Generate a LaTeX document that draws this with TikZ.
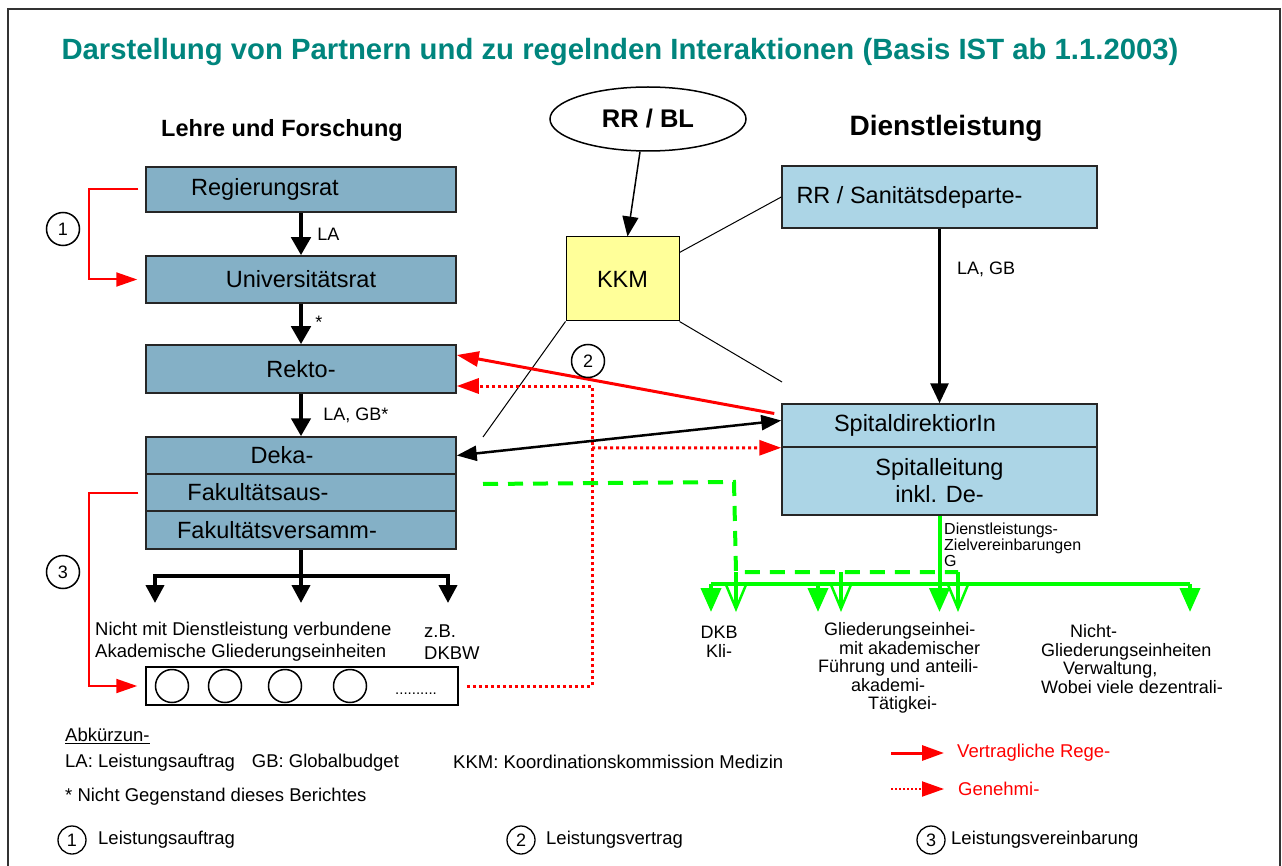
\documentclass[tikz,border=0pt]{standalone}
\usepackage{fontspec}
\setmainfont{Liberation Sans}
\usetikzlibrary{arrows.meta,shapes.geometric}
\definecolor{titleteal}{RGB}{0,133,125}
\definecolor{uniblue}{RGB}{132,176,198}
\definecolor{spitalblue}{RGB}{172,213,230}
\definecolor{kkmyellow}{RGB}{255,255,153}
\definecolor{lnred}{RGB}{255,0,0}
\definecolor{lngreen}{RGB}{0,255,0}
\newcommand\fsz[2]{\fontsize{#1}{#2}\selectfont}

\begin{document}
\begin{tikzpicture}[x=1pt,y=-1pt,
  unibox/.style={draw=black!85, line width=1.5pt, fill=uniblue, minimum width=310pt, inner sep=0pt, font=\fsz{23.5}{27}},
  spitalbox/.style={draw=black!85, line width=1.5pt, fill=spitalblue, minimum width=315pt, inner sep=0pt, font=\fsz{23.5}{27}},
  numc/.style={circle, draw, line width=1.5pt, minimum size=33pt, inner sep=0pt, font=\fsz{18}{20}},
  numcs/.style={circle, draw, line width=1.3pt, minimum size=28pt, inner sep=0pt, font=\fsz{18}{20}},
  lbl/.style={font=\fsz{18}{18.5}, inner sep=0pt},
  leg/.style={font=\fsz{18.5}{20}, inner sep=0pt},
  thinln/.style={line width=1pt},
  blkthick/.style={line width=4.5pt, -{Triangle[length=18pt,width=19pt]}},
  blkmed/.style={line width=3pt, -{Triangle[length=20pt,width=18pt]}},
  blkfork/.style={line width=4pt, -{Triangle[length=18pt,width=18pt]}},
  blkdbl/.style={line width=2.5pt, {Triangle[length=20pt,width=15pt]}-{Triangle[length=20pt,width=15pt]}},
  redthin/.style={draw=lnred, line width=2pt, -{Triangle[length=21pt,width=14pt]}},
  redthick/.style={draw=lnred, line width=3pt, -{Triangle[length=22pt,width=15pt]}},
  reddot/.style={draw=lnred, line width=3pt, dash pattern=on 3pt off 3pt, -{Triangle[length=22pt,width=15pt]}},
  gsolid/.style={draw=lngreen, line width=4pt},
  gtip/.style={gsolid, -{Triangle[length=24pt,width=20pt]}},
  gdash/.style={draw=lngreen, line width=4pt, dash pattern=on 15pt off 10pt},
  gopen/.style={gsolid, -{Straight Barb[length=24pt,width=20pt,line width=2.5pt]}}
]
\useasboundingbox (0,0) rectangle (1282,866);
\draw[line width=2pt, draw=black!80] (8,9) rectangle (1280,880);

% headings
\node[font=\bfseries\fsz{29.3}{34}, text=titleteal] (title) at (620,52)
  {Darstellung von Partnern und zu regelnden Interaktionen (Basis IST ab 1.1.2003)};
\node[font=\bfseries\fsz{23.5}{28}] (lf) at (282,130) {Lehre und Forschung};
\node[font=\bfseries\fsz{28}{32}] (dl) at (946,128) {Dienstleistung};

% university column
\node[unibox, minimum height=45pt] (reg) at (301,189.5) {Regierungsrat\hspace*{72pt}};
\node[unibox, minimum height=47pt] (uni) at (301,279.5) {Universitätsrat};
\node[unibox, minimum height=48pt] (rek) at (301,369) {Rekto-};
\node[unibox, minimum height=37pt] (dek) at (301,455.5) {Deka-\hspace*{38pt}};
\node[unibox, minimum height=37pt] (fka) at (301,492.5) {Fakultätsaus-\hspace*{86pt}};
\node[unibox, minimum height=38pt] (fkv) at (301,530) {Fakultätsversamm-\hspace*{48pt}};

\draw[blkthick] (reg) -- node[lbl, right=14pt] {LA} (uni);
\draw[blkthick] (uni) -- node[lbl, right=12pt, yshift=2pt] {*} (rek);
\draw[blkthick] (rek) -- node[lbl, right=20pt] {LA, GB*} (dek);

% academic units below the faculty
\coordinate (fk) at (301,576);
\coordinate (t1) at (155,603);
\coordinate (t2) at (301,603);
\coordinate (t3) at (448,603);
\draw[line width=4pt] (fkv.south) -- (fk);
\draw[blkfork] (fk) -| (t1);
\draw[blkfork] (fk) -| (t3);
\draw[blkfork] (fk) -- (t2);
\node[lbl, anchor=west, align=left, font=\fsz{18.5}{22}] (ngl) at (95,642)
  {Nicht mit Dienstleistung verbundene\\Akademische Gliederungseinheiten};
\node[lbl, anchor=west, align=left, font=\fsz{18.5}{22}] (dkbw) at (424,642) {z.B.\\DKBW};

\node[draw, line width=1.5pt, minimum width=312pt, minimum height=38pt, inner sep=0pt] (cb) at (302,686) {};
\node[circle, draw, line width=1.5pt, minimum size=33pt, inner sep=0pt] (c1) at (172,686) {};
\node[circle, draw, line width=1.5pt, minimum size=33pt, inner sep=0pt] (c2) at (225,686) {};
\node[circle, draw, line width=1.5pt, minimum size=33pt, inner sep=0pt] (c3) at (285,686) {};
\node[circle, draw, line width=1.5pt, minimum size=33pt, inner sep=0pt] (c4) at (350,686) {};
\node[font=\fsz{15}{16}, inner sep=0pt] (dots) at (416,694) {..........};

% red brackets on the left
\draw[redthin] ([xshift=-7pt]reg.west) -- ++(-49,0) |- ([xshift=-8pt]uni.west);
\node[numc] (n1) at (63,229) {1};
\draw[redthin] ([xshift=-7pt]fka.west) -- ++(-49,0) |- ([xshift=-8pt]cb.west);
\node[numc] (n3) at (63,572) {3};

% KKM and the governing board
\node[ellipse, draw, line width=1.5pt, minimum width=196pt, minimum height=64pt, inner sep=0pt,
  font=\bfseries\fsz{25.5}{30}] (rrbl) at (648,119) {RR / BL};
\node[draw, line width=1pt, fill=kkmyellow, minimum width=113pt, minimum height=84pt, inner sep=0pt,
  font=\fsz{23.5}{27}] (kkm) at (622.5,279) {KKM};
\draw[thinln, line width=1.5pt, -{Triangle[length=20pt,width=16pt]}] ([xshift=-8pt]rrbl.south) -- ([xshift=5pt]kkm.north);

% service column
\node[spitalbox, minimum height=62pt] (rrs) at (939.5,197) {RR / Sanitätsdeparte-\hspace*{60pt}};
\node[spitalbox, minimum height=43pt] (spd) at (939.5,425.5) {SpitaldirektiorIn\hspace*{49pt}};
\node[spitalbox, minimum height=68pt, align=center] (spl) at (939.5,481) {Spitalleitung\\inkl. De-};
\draw[blkmed] (rrs) -- node[lbl, pos=0.23, right=16pt] {LA, GB} (spd);

\coordinate (kkmL) at (483,437);
\coordinate (kkmR) at (782,382);
\draw[thinln] ([yshift=-16pt]kkm.north east) -- (rrs.west);
\draw[thinln] (kkm.south west) -- (kkmL);
\draw[thinln] (kkm.south east) -- (kkmR);

% contracts between the two sides
\coordinate (rdc) at (592,386);
\coordinate (rdj) at (592,448);
\draw[reddot] ([xshift=8pt]cb.east) -| (rdc) -- ([yshift=-17pt]rek.east);
\draw[reddot] (rdj) -- (spd.south west);
\draw[redthick] ([xshift=-7pt,yshift=12pt]spd.west) -- ([yshift=14pt]rek.east);
\draw[blkdbl] (dek.east) -- ([yshift=5pt]spd.west);
\node[numc] (n2) at (588,361) {2};

% green agreements
\coordinate (gd0) at (483,484);
\coordinate (gd1) at (734,482);
\coordinate (gd2) at (736,572);
\coordinate (gd3) at (958,572);
\draw[gdash] (gd0) -- (gd1) -- (gd2) -- (gd3);

\coordinate (gtrunk) at (939.5,584);
\coordinate (gL) at (711,584);
\coordinate (gR) at (1190,584);
\coordinate (ga1) at (711,612);
\coordinate (ga2) at (818,612);
\coordinate (ga3) at (939.5,612);
\coordinate (ga4) at (1190,612);
\draw[gsolid] (spl.south) -- (gtrunk);
\draw[gsolid] (gL) -- (gR);
\draw[gtip] (gL) -- (ga1);
\draw[gtip] (ga2 |- gL) -- (ga2);
\draw[gtip] (gtrunk) -- (ga3);
\draw[gtip] (gR) -- (ga4);

\coordinate (gv1) at (736,612);
\coordinate (gv2) at (841,612);
\coordinate (gv3) at (958,612);
\draw[gopen] (gd2) -- (gv1);
\draw[gopen] (gv2 |- gd2) -- (gv2);
\draw[gopen] (gd3) -- (gv3);

\node[anchor=north west, align=left, inner sep=0pt, font=\fsz{16}{16}] (dlz) at (944,523)
  {Dienstleistungs-\\Zielvereinbarungen\\G};

\node[lbl, align=center] (dkb) at (719,642) {DKB\\Kli-};
\node[lbl, anchor=west, align=left] (gle) at (818,668)
  {\hspace*{6pt}Gliederungseinhei-\\\hspace*{21pt}mit akademischer\\Führung und anteili-\\\hspace*{33pt}akademi-\\\hspace*{50pt}Tätigkei-};
\node[lbl, anchor=west, align=left] (ngle) at (1041,659)
  {\hspace*{29pt}Nicht-\\Gliederungseinheiten\\\hspace*{22pt}Verwaltung,\\Wobei viele dezentrali-};

% legend
\node[leg, anchor=west] (abk) at (65,736) {\underline{Abkürzun-}};
\node[leg, anchor=west] (lagb) at (65,763) {LA: Leistungsauftrag\hspace*{17pt}GB: Globalbudget};
\node[leg, anchor=west] (kkml) at (453,762) {KKM: Koordinationskommission Medizin};
\node[leg, anchor=west] (stern) at (65,797) {* Nicht Gegenstand dieses Berichtes};

\coordinate (lg1a) at (891,753);
\coordinate (lg1b) at (944,753);
\coordinate (lg2a) at (891,789);
\coordinate (lg2b) at (944,789);
\draw[redthick, line width=3pt] (lg1a) -- (lg1b);
\draw[reddot, line width=2pt, dash pattern=on 2pt off 2pt] (lg2a) -- (lg2b);
\node[leg, anchor=west, text=lnred] (vrr) at (957,753) {Vertragliche Rege-};
\node[leg, anchor=west, text=lnred] (gen) at (958,789) {Genehmi-};

\node[numcs] (b1) at (72,840) {1};
\node[leg, anchor=west] (b1t) at (98,840) {Leistungsauftrag};
\node[numcs] (b2) at (521,840) {2};
\node[leg, anchor=west] (b2t) at (546,840) {Leistungsvertrag};
\node[numcs] (b3) at (931,840) {3};
\node[leg, anchor=west] (b3t) at (951,840) {Leistungsvereinbarung};
\end{tikzpicture}
\end{document}
